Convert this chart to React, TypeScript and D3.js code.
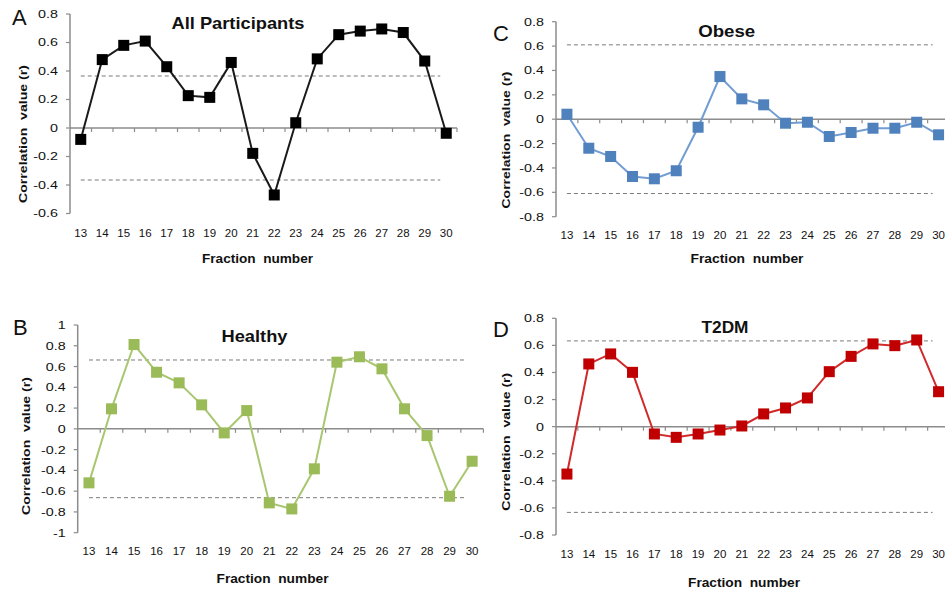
import React from "react";
import * as d3 from "d3";

const fractions = ["13","14","15","16","17","18","19","20","21","22","23","24","25","26","27","28","29","30"];

const allParticipants = [-0.08,0.48,0.58,0.61,0.43,0.227,0.215,0.46,-0.178,-0.47,0.037,0.485,0.655,0.68,0.695,0.67,0.47,-0.037];
const healthy = [-0.52,0.193,0.812,0.545,0.443,0.231,-0.039,0.176,-0.713,-0.771,-0.385,0.642,0.694,0.578,0.193,-0.065,-0.649,-0.312];
const obese = [0.041,-0.238,-0.306,-0.47,-0.489,-0.423,-0.066,0.35,0.167,0.118,-0.033,-0.025,-0.142,-0.109,-0.074,-0.074,-0.025,-0.128];
const t2dm = [-0.35,0.463,0.537,0.401,-0.054,-0.079,-0.054,-0.025,0.005,0.094,0.138,0.212,0.406,0.519,0.611,0.598,0.64,0.258];

const thresholds = { A: 0.365, B: 0.663, C: 0.61, D: 0.633 };
const yDomains = { A: [-0.6, 0.8], B: [-1, 1], C: [-0.8, 0.8], D: [-0.8, 0.8] };
const titles = { A: "All Participants", B: "Healthy", C: "Obese", D: "T2DM" };

const FONT = "'Liberation Sans', Arial, sans-serif";

type Layout = {
  key: "A" | "B" | "C" | "D";
  values: number[];
  markerColor: string;
  lineColor: string;
  axisX: number; xEnd: number; yTop: number; yBottom: number;
  tickLabelBase: number;
  xTitleX: number; xTitleBase: number; xTitleLen: number;
  titleX: number; titleBase: number; titleLen: number;
  letterX: number; letterBase: number;
  yLabelX: number; yLabelY: number; yLabelLen: number;
};

const panels: Layout[] = [
  { key: "A", values: allParticipants, markerColor: "#000000", lineColor: "#1a1a1a",
    axisX: 70, xEnd: 457, yTop: 14, yBottom: 213.5, tickLabelBase: 237,
    xTitleX: 257.5, xTitleBase: 263, xTitleLen: 111,
    titleX: 238, titleBase: 29, titleLen: 133,
    letterX: 12, letterBase: 25, yLabelX: 27, yLabelY: 134, yLabelLen: 138 },
  { key: "B", values: healthy, markerColor: "#9BBB59", lineColor: "#A9C670",
    axisX: 77.7, xEnd: 483.4, yTop: 325, yBottom: 532.7, tickLabelBase: 555,
    xTitleX: 272.5, xTitleBase: 583, xTitleLen: 112,
    titleX: 254.5, titleBase: 342, titleLen: 66,
    letterX: 13, letterBase: 335, yLabelX: 30, yLabelY: 446, yLabelLen: 138 },
  { key: "C", values: obese, markerColor: "#4F81BD", lineColor: "#729DD2",
    axisX: 556, xEnd: 949.5, yTop: 21.7, yBottom: 216.7, tickLabelBase: 239,
    xTitleX: 747, xTitleBase: 263, xTitleLen: 113,
    titleX: 726.7, titleBase: 37, titleLen: 57,
    letterX: 493, letterBase: 41, yLabelX: 510, yLabelY: 140, yLabelLen: 137 },
  { key: "D", values: t2dm, markerColor: "#C00000", lineColor: "#D02A2A",
    axisX: 556, xEnd: 949.5, yTop: 318.3, yBottom: 535, tickLabelBase: 558,
    xTitleX: 744, xTitleBase: 587, xTitleLen: 112,
    titleX: 725, titleBase: 333, titleLen: 47,
    letterX: 493, letterBase: 337, yLabelX: 510, yLabelY: 441.7, yLabelLen: 138 },
];

function Panel({ p }: { p: Layout }) {
  const x = d3.scaleBand<string>().domain(fractions).range([p.axisX, p.xEnd]).padding(0);
  const dom = yDomains[p.key];
  const y = d3.scaleLinear().domain(dom).range([p.yBottom, p.yTop]);
  const bw = x.bandwidth();
  const cx = (f: string) => (x(f) as number) + bw / 2;
  const yTicks = d3.range(Math.round(dom[0] * 10), Math.round(dom[1] * 10) + 1, 2).map((v) => v / 10);
  const line = d3.line<number>().x((_, i) => cx(fractions[i])).y((v) => y(v));
  const th = thresholds[p.key];
  const fmt = (v: number) => (Math.abs(v) < 1e-9 ? "0" : String(+v.toFixed(1)));
  const ms = 11;
  const grey = "#8c8c8c";
  const dashX1 = cx(fractions[0]);
  const dashX2 = cx(fractions[fractions.length - 1]) - 6;
  return (
    <g>
      {/* y axis */}
      <line x1={p.axisX} x2={p.axisX} y1={y(dom[1])} y2={y(dom[0])} stroke={grey} strokeWidth={1.5} />
      {yTicks.map((t) => (
        <g key={t}>
          <line x1={p.axisX - 4} x2={p.axisX} y1={y(t)} y2={y(t)} stroke={grey} strokeWidth={1.2} />
          <text transform={`translate(${p.axisX - 12},${y(t)}) scale(1.3,1)`} dy="0.36em" textAnchor="end" fontSize={11} fontFamily={FONT} fill="#111">{fmt(t)}</text>
        </g>
      ))}
      {/* threshold dashed lines */}
      {[th, -th].map((v) => (
        <line key={v} x1={dashX1} x2={dashX2} y1={y(v)} y2={y(v)} stroke="#7a7a7a" strokeWidth={1} strokeDasharray="4,3" />
      ))}
      {/* zero axis with ticks */}
      <line x1={p.axisX} x2={p.xEnd} y1={y(0)} y2={y(0)} stroke={grey} strokeWidth={1.5} />
      {fractions.map((f) => (
        <line key={f} x1={(x(f) as number) + bw} x2={(x(f) as number) + bw} y1={y(0)} y2={y(0) + 4} stroke={grey} strokeWidth={1.2} />
      ))}
      {/* x tick labels */}
      {fractions.map((f) => (
        <text key={f} x={cx(f)} y={p.tickLabelBase} textAnchor="middle" fontSize={11.5} fontFamily={FONT} fill="#111">{f}</text>
      ))}
      {/* series */}
      <path d={line(p.values) || ""} fill="none" stroke={p.lineColor} strokeWidth={2} />
      {p.values.map((v, i) => (
        <rect key={i} x={cx(fractions[i]) - ms / 2} y={y(v) - ms / 2} width={ms} height={ms} fill={p.markerColor} />
      ))}
      {/* texts */}
      <text x={p.titleX} y={p.titleBase} textAnchor="middle" fontSize={17} fontWeight="bold" fontFamily={FONT} fill="#111"
        textLength={p.titleLen} lengthAdjust="spacingAndGlyphs">{titles[p.key]}</text>
      <text x={p.letterX} y={p.letterBase} fontSize={22} fontFamily={FONT} fill="#111">{p.key}</text>
      <text x={p.xTitleX} y={p.xTitleBase} textAnchor="middle" fontSize={12} fontWeight="bold" fontFamily={FONT} fill="#111"
        textLength={p.xTitleLen} lengthAdjust="spacingAndGlyphs" style={{ whiteSpace: "pre" }}>{"Fraction  number"}</text>
      <text transform={`translate(${p.yLabelX},${p.yLabelY}) rotate(-90)`} textAnchor="middle" fontSize={11.5} fontWeight="bold" fontFamily={FONT} fill="#111"
        textLength={p.yLabelLen} lengthAdjust="spacingAndGlyphs" style={{ whiteSpace: "pre" }}>{"Correlation  value (r)"}</text>
    </g>
  );
}

export default function App() {
  return (
    <svg width={945} height={592} style={{ position: "absolute", left: 0, top: 0, background: "#fff" }}>
      <rect width={945} height={592} fill="#fff" />
      {panels.map((p) => (
        <Panel key={p.key} p={p} />
      ))}
    </svg>
  );
}
